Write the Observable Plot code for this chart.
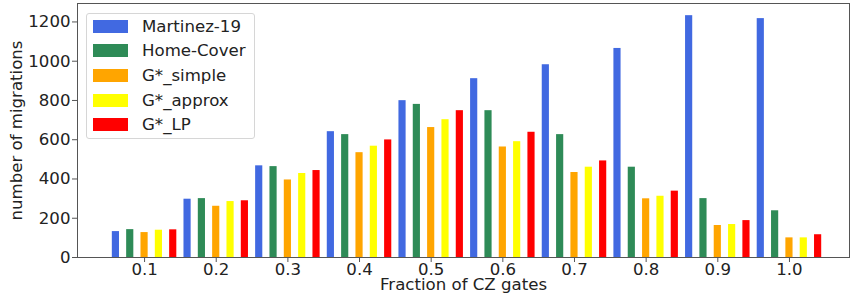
<!DOCTYPE html>
<html>
<head>
<meta charset="utf-8">
<script src="https://cdn.jsdelivr.net/npm/d3@7"></script>
<script src="https://cdn.jsdelivr.net/npm/@observablehq/plot@0.6"></script>
<style>
  html, body { margin: 0; padding: 0; background: #fff; }
  #wrap { position: relative; width: 850px; height: 304px; font-family: "DejaVu Sans", sans-serif; }
  #legend { position: absolute; left: 86px; top: 13px; width: 169px; height: 126px; border: 1px solid #d6d6d6; border-radius: 3px; background: rgba(255,255,255,0.8); box-sizing: border-box; }
  .item { position: absolute; left: 6px; height: 14px; display: flex; align-items: center; font-size: 16.6px; color: #222; white-space: nowrap; }
  .sw { width: 35px; height: 13px; margin-right: 14px; }
</style>
</head>
<body>
<div id="wrap"></div>
<script>
const fractions = [0.1, 0.2, 0.3, 0.4, 0.5, 0.6, 0.7, 0.8, 0.9, 1.0];
const seriesNames = ["Martinez-19", "Home-Cover", "G*_simple", "G*_approx", "G*_LP"];
const seriesColors = ["#4169e1", "#2e8b57", "#ffa500", "#ffff00", "#ff0000"];
const martinez  = [132, 297, 467, 641, 799, 911, 982, 1065, 1232, 1217];
const homeCover = [142, 300, 463, 626, 780, 748, 626, 460, 300, 238];
const gSimple   = [127, 261, 395, 534, 662, 563, 433, 299, 163, 100];
const gApprox   = [139, 285, 428, 567, 702, 590, 460, 312, 168, 100];
const gLP       = [141, 289, 443, 599, 748, 638, 492, 338, 188, 116];
const yTicks = [0, 200, 400, 600, 800, 1000, 1200];

const seriesValues = [martinez, homeCover, gSimple, gApprox, gLP];
const rows = [];
seriesValues.forEach((vals, i) => {
  vals.forEach((v, j) => {
    rows.push({series: seriesNames[i], x: fractions[j] + (i - 2) * 0.02, value: v});
  });
});

const chart = Plot.plot({
  width: 850,
  height: 304,
  marginLeft: 77,
  marginRight: 1,
  marginTop: 3,
  marginBottom: 47,
  style: {fontFamily: "DejaVu Sans, sans-serif", fontSize: "16.6px", color: "#222", background: "#fff", overflow: "visible"},
  x: {domain: [0.0064, 1.0838]},
  y: {domain: [0, 1294]},
  color: {domain: seriesNames, range: seriesColors},
  marks: [
    Plot.rectY(rows, {x1: d => d.x - 0.005, x2: d => d.x + 0.005, y: "value", fill: "series"}),
    Plot.frame({stroke: "#555", strokeWidth: 1}),
    Plot.axisX({ticks: fractions, tickFormat: d3.format(".1f"), tickSize: 5, tickPadding: 1, stroke: "#555", fill: "#222", fontSize: 16.6, label: null}),
    Plot.axisY({ticks: yTicks, tickFormat: d3.format("d"), tickSize: 5, tickPadding: 2, stroke: "#555", fill: "#222", fontSize: 16.6, label: null}),
    Plot.text(["Fraction of CZ gates"], {frameAnchor: "bottom", dy: 32, fontSize: 16.6, fill: "#222"}),
    Plot.text(["number of migrations"], {frameAnchor: "left", textAnchor: "middle", rotate: -90, dx: -61, fontSize: 16.6, fill: "#222"})
  ]
});

const wrap = document.getElementById("wrap");
wrap.appendChild(chart);

const legend = document.createElement("div");
legend.id = "legend";
seriesNames.forEach((name, i) => {
  const item = document.createElement("div");
  item.className = "item";
  item.style.top = (5 + i * 24.7) + "px";
  const sw = document.createElement("span");
  sw.className = "sw";
  sw.style.background = seriesColors[i];
  item.appendChild(sw);
  item.appendChild(document.createTextNode(name));
  legend.appendChild(item);
});
wrap.appendChild(legend);
</script>
</body>
</html>
